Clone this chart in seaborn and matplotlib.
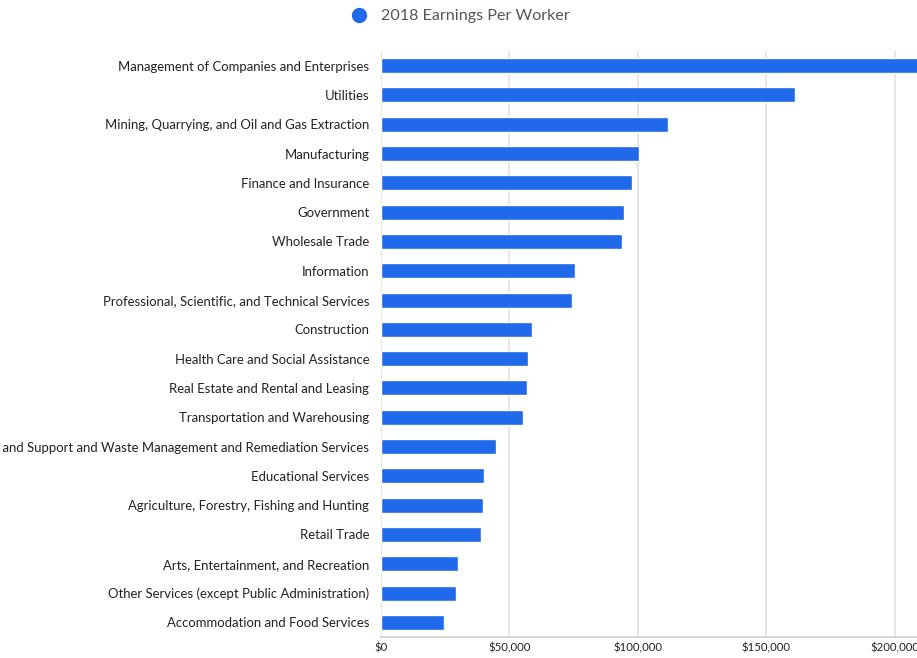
import matplotlib
matplotlib.use("Agg")
import matplotlib.pyplot as plt
from matplotlib.lines import Line2D
import seaborn as sns
import pandas as pd

industries = [
    "Management of Companies and Enterprises",
    "Utilities",
    "Mining, Quarrying, and Oil and Gas Extraction",
    "Manufacturing",
    "Finance and Insurance",
    "Government",
    "Wholesale Trade",
    "Information",
    "Professional, Scientific, and Technical Services",
    "Construction",
    "Health Care and Social Assistance",
    "Real Estate and Rental and Leasing",
    "Transportation and Warehousing",
    "Administrative and Support and Waste Management and Remediation Services",
    "Educational Services",
    "Agriculture, Forestry, Fishing and Hunting",
    "Retail Trade",
    "Arts, Entertainment, and Recreation",
    "Other Services (except Public Administration)",
    "Accommodation and Food Services",
]
earnings = [
    215000, 161100, 111800, 100600, 97700, 94500, 93700, 75700, 74500, 58900,
    57200, 56900, 55300, 44800, 40100, 39600, 38900, 30100, 29300, 24400,
]
x_ticks = [0, 50000, 100000, 150000, 200000]
x_tick_labels = ["$0", "$50,000", "$100,000", "$150,000", "$200,000"]
series_name = "2018 Earnings Per Worker"

df = pd.DataFrame({"industry": industries, "earnings": earnings})

sns.set_theme(style="white")
plt.rcParams["font.family"] = ["Lato", "DejaVu Sans"]

BLUE = "#1f69ea"
W, H = 917, 658
fig = plt.figure(figsize=(W / 100, H / 100), dpi=100)
left_px, top_px, bottom_px = 381, 51, 637
ax = fig.add_axes([left_px / W, (H - bottom_px) / H, 1 - left_px / W, (bottom_px - top_px) / H])

sns.barplot(data=df, y="industry", x="earnings", orient="h", color=BLUE,
            saturation=1, width=0.51, ax=ax, zorder=3)

ax.set_xlim(0, (W - left_px) / 2.568 * 1000)
ax.set_xticks(x_ticks)
ax.set_xticklabels(x_tick_labels, fontsize=8.2, color="#222222")
ax.tick_params(axis="y", labelsize=9.45, labelcolor="#222222", length=0, pad=8.5)
ax.tick_params(axis="x", length=0, pad=4)
ax.set_xlabel("")
ax.set_ylabel("")
ax.grid(axis="x", color="#e4e4e4", linewidth=1.3, zorder=0)
ax.grid(axis="y", visible=False)
for s in ["top", "right", "left"]:
    ax.spines[s].set_visible(False)
ax.spines["bottom"].set_color("#d0d0d0")
ax.spines["bottom"].set_linewidth(1.2)

handle = Line2D([0], [0], marker="o", linestyle="none", markersize=10,
                markerfacecolor=BLUE, markeredgecolor=BLUE)
fig.legend([handle], [series_name], loc="center", bbox_to_anchor=(456 / W, 1 - 16 / H),
           frameon=False, fontsize=11.6, handletextpad=0.35, labelcolor="#555555")

fig.savefig("out.png", dpi=100)
